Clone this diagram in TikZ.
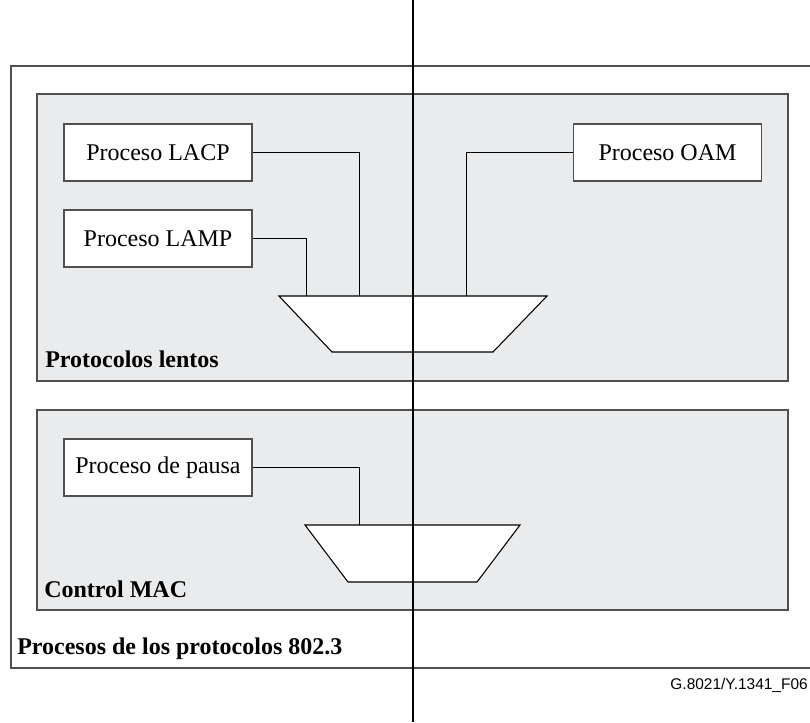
\documentclass[tikz,border=0pt]{standalone}
\usepackage{fontspec}
\setmainfont{Liberation Serif}
\newfontfamily\footfont{Liberation Sans}
\definecolor{panelgray}{HTML}{EAEBED}
\definecolor{edgegray}{HTML}{505050}
\begin{document}
\begin{tikzpicture}[x=0.75pt, y=-0.75pt,
	proc/.style = {draw=edgegray, fill=white, line width=0.9pt, minimum width=141pt, minimum height=42.75pt, inner sep=0pt, font=\fontsize{18}{21}\selectfont},
	panel/.style = {draw=edgegray, fill=panelgray, line width=0.8pt},
	mux/.style = {draw=black, fill=white, line width=0.8pt},
	wire/.style = {draw=black, line width=0.7pt},
	title/.style = {anchor=base west, inner sep=0pt, font=\fontsize{18}{21}\selectfont\bfseries}]
		\useasboundingbox (0,0) rectangle (810,722);
		% Cajas
		\draw[edgegray, line width=0.8pt] (11,66) rectangle (820,668);
		\draw[panel] (37,94) rectangle (788,381);
		\draw[panel] (37,410) rectangle (788,610);
		% Procesos
		\node[proc] (lacp) at (158,152.5) {Proceso LACP};
		\node[proc] (lamp) at (158,238.5) {Proceso LAMP};
		\node[proc] (oam) at (667.5,152.5) {Proceso OAM};
		\node[proc] (pausa) at (158,467.5) {Proceso de pausa};
		% Multiplexores
		\draw[mux] (279,296) -- (547,296) -- (493,352) -- (332,352) -- cycle;
		\draw[mux] (305,525) -- (520,525) -- (477,582) -- (348,582) -- cycle;
		\coordinate (m1lamp) at (306,296);
		\coordinate (m1lacp) at (359,296);
		\coordinate (m1oam) at (466,296);
		\coordinate (m2pausa) at (359,525);
		% Conexiones
		\draw[wire] (lacp.east) -| (m1lacp);
		\draw[wire] (lamp.east) -| (m1lamp);
		\draw[wire] (oam.west) -| (m1oam);
		\draw[wire] (pausa.east) -| (m2pausa);
		% Linea central
		\coordinate (top) at (413,0);
		\coordinate (bot) at (413,722);
		\draw[black, line width=1.2pt] (top) -- (bot);
		% Textos
		\node[title] (lentos) at (45,367) {Protocolos lentos};
		\node[title] (mac) at (44,597) {Control MAC};
		\node[title] (procesos) at (17,654) {Procesos de los protocolos 802.3};
		\node[anchor=base east, inner sep=0pt, font=\footfont\fontsize{11.6}{13}\selectfont] (fig) at (808,689) {G.8021/Y.1341\_F06};
\end{tikzpicture}
\end{document}
